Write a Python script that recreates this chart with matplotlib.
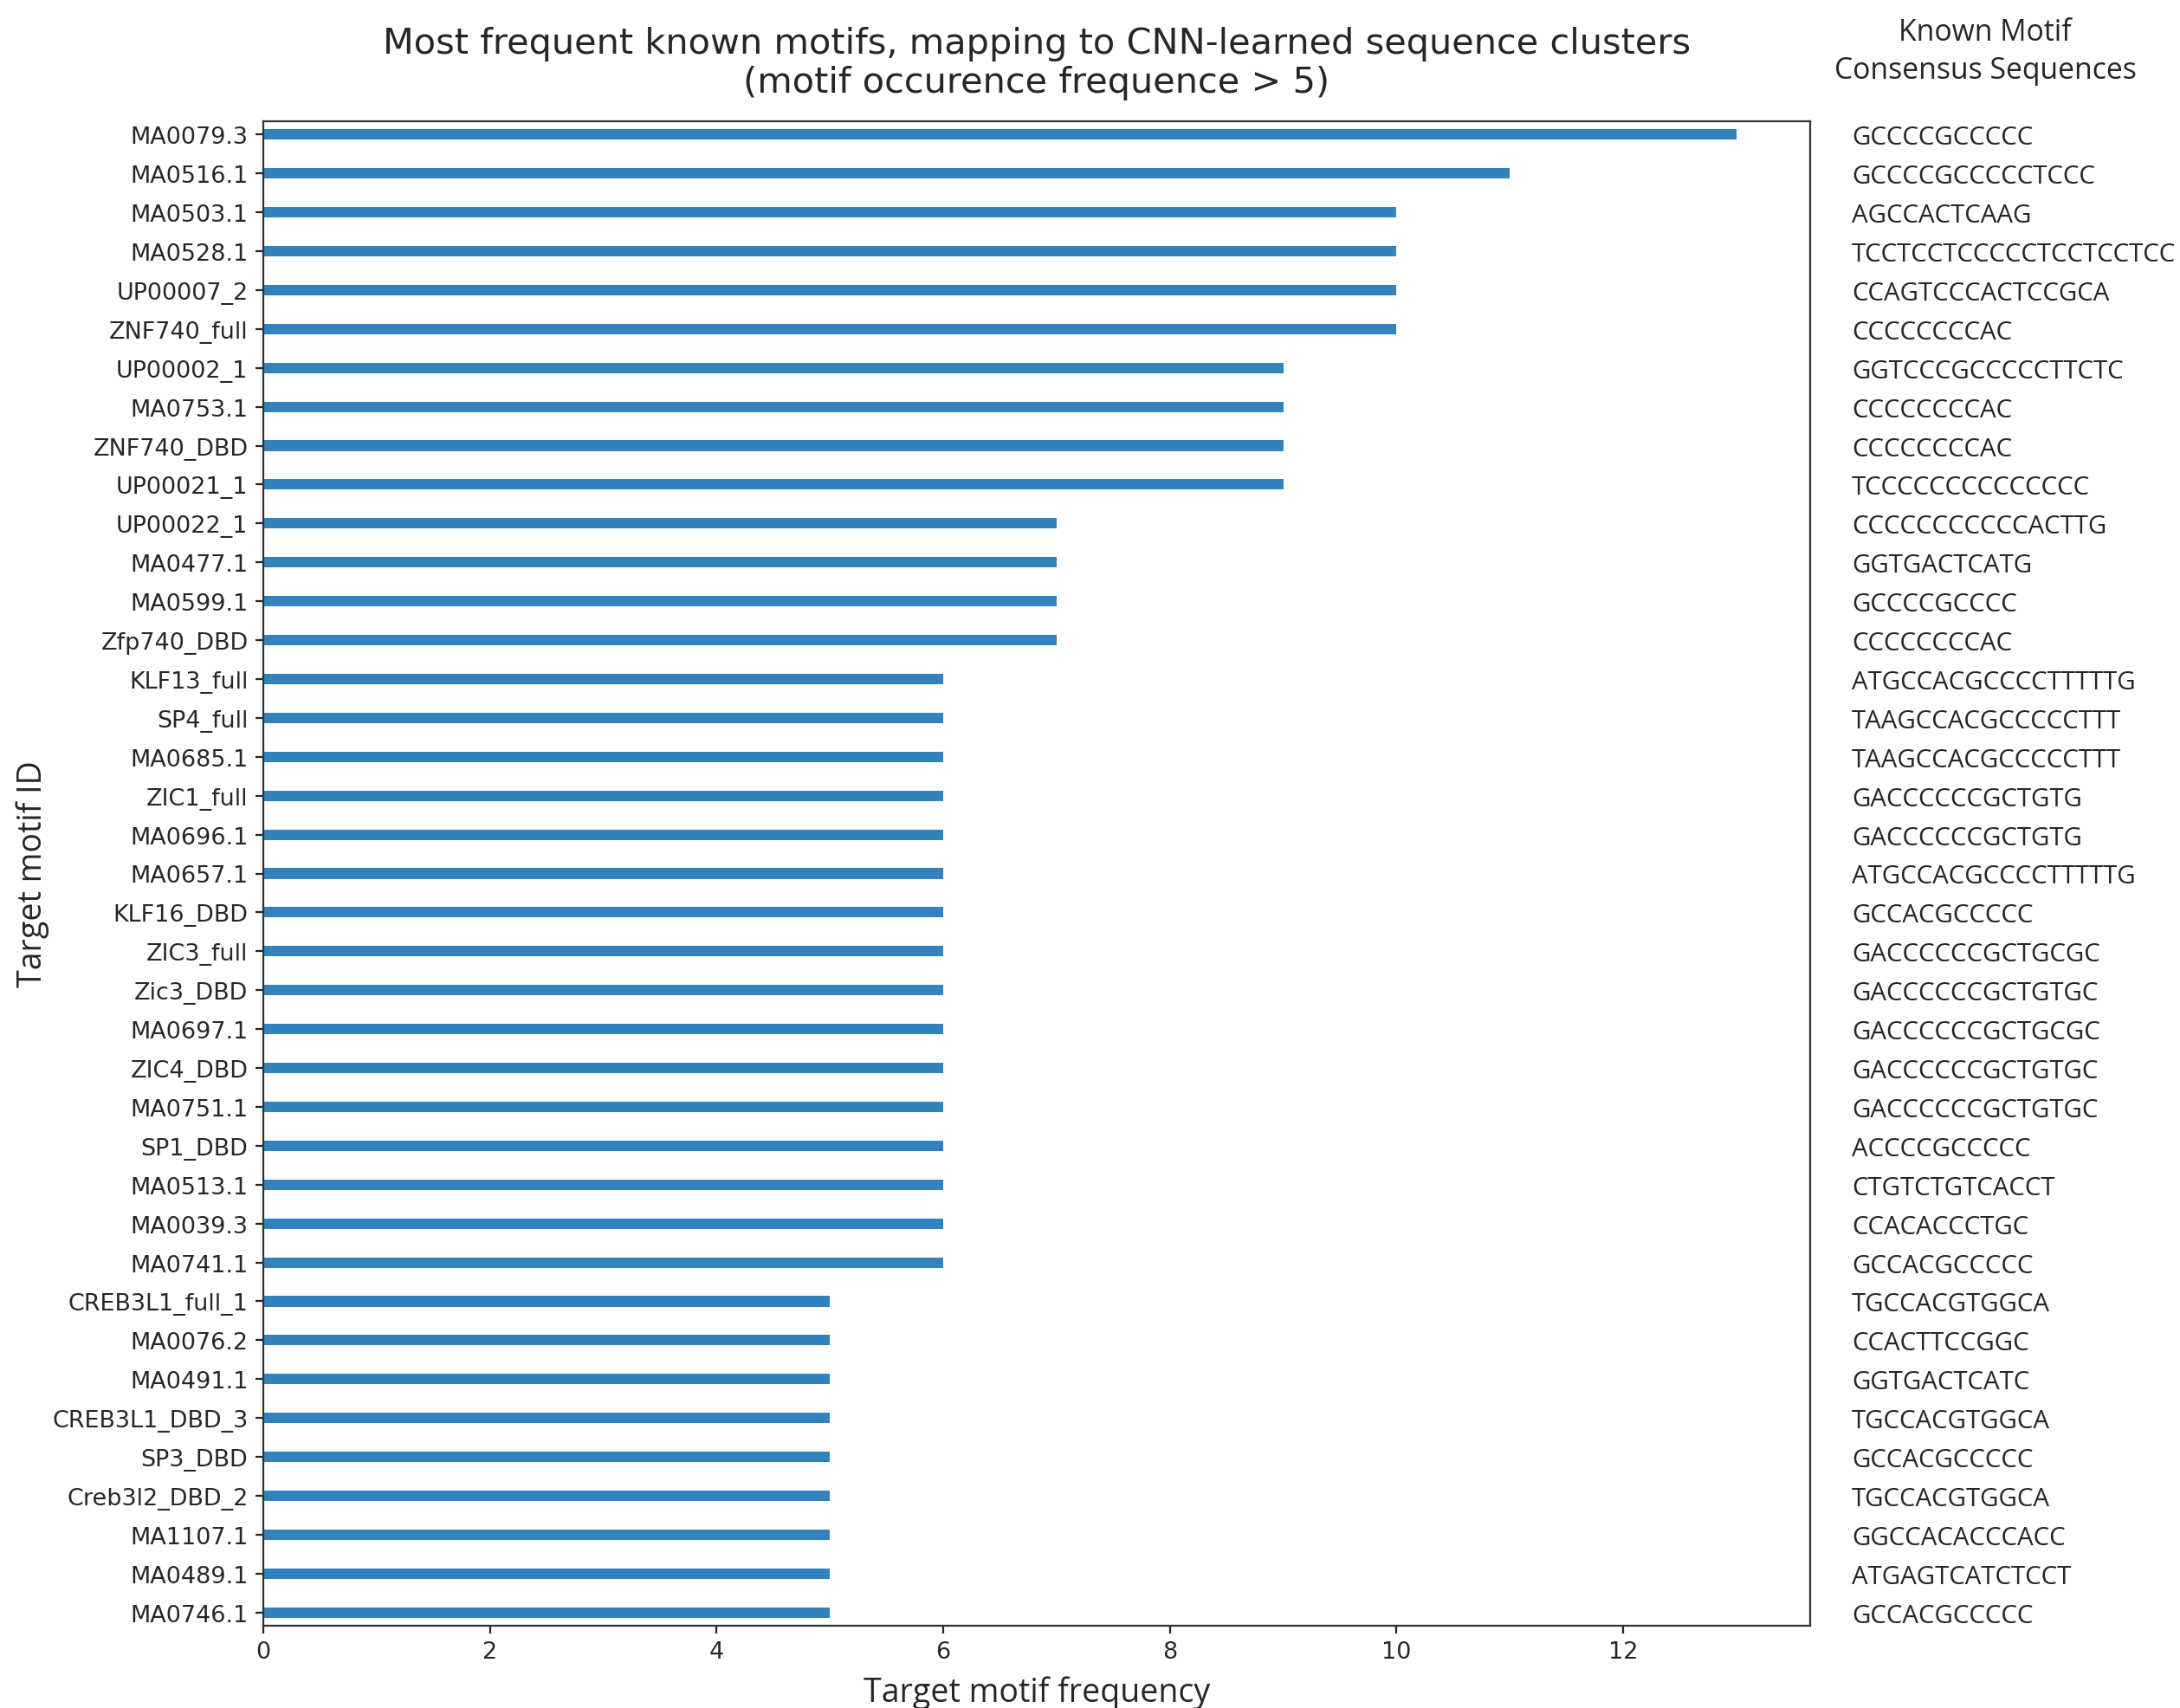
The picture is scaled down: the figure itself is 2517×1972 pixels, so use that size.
import matplotlib
matplotlib.use("Agg")
import matplotlib.pyplot as plt
from matplotlib.transforms import blended_transform_factory

# Known motif IDs (top to bottom), their occurrence counts and consensus sequences
motif_ids = [
    "MA0079.3", "MA0516.1", "MA0503.1", "MA0528.1", "UP00007_2", "ZNF740_full",
    "UP00002_1", "MA0753.1", "ZNF740_DBD", "UP00021_1", "UP00022_1", "MA0477.1",
    "MA0599.1", "Zfp740_DBD", "KLF13_full", "SP4_full", "MA0685.1", "ZIC1_full",
    "MA0696.1", "MA0657.1", "KLF16_DBD", "ZIC3_full", "Zic3_DBD", "MA0697.1",
    "ZIC4_DBD", "MA0751.1", "SP1_DBD", "MA0513.1", "MA0039.3", "MA0741.1",
    "CREB3L1_full_1", "MA0076.2", "MA0491.1", "CREB3L1_DBD_3", "SP3_DBD",
    "Creb3l2_DBD_2", "MA1107.1", "MA0489.1", "MA0746.1",
]

frequencies = [
    13, 11, 10, 10, 10, 10,
    9, 9, 9, 9, 7, 7,
    7, 7, 6, 6, 6, 6,
    6, 6, 6, 6, 6, 6,
    6, 6, 6, 6, 6, 6,
    5, 5, 5, 5, 5,
    5, 5, 5, 5,
]

consensus = [
    "GCCCCGCCCCC", "GCCCCGCCCCCTCCC", "AGCCACTCAAG", "TCCTCCTCCCCCTCCTCCTCC",
    "CCAGTCCCACTCCGCA", "CCCCCCCCAC", "GGTCCCGCCCCCTTCTC", "CCCCCCCCAC",
    "CCCCCCCCAC", "TCCCCCCCCCCCCCC", "CCCCCCCCCCCACTTG", "GGTGACTCATG",
    "GCCCCGCCCC", "CCCCCCCCAC", "ATGCCACGCCCCTTTTTG", "TAAGCCACGCCCCCTTT",
    "TAAGCCACGCCCCCTTT", "GACCCCCCGCTGTG", "GACCCCCCGCTGTG", "ATGCCACGCCCCTTTTTG",
    "GCCACGCCCCC", "GACCCCCCGCTGCGC", "GACCCCCCGCTGTGC", "GACCCCCCGCTGCGC",
    "GACCCCCCGCTGTGC", "GACCCCCCGCTGTGC", "ACCCCGCCCCC", "CTGTCTGTCACCT",
    "CCACACCCTGC", "GCCACGCCCCC", "TGCCACGTGGCA", "CCACTTCCGGC",
    "GGTGACTCATC", "TGCCACGTGGCA", "GCCACGCCCCC", "TGCCACGTGGCA",
    "GGCCACACCCACC", "ATGAGTCATCTCCT", "GCCACGCCCCC",
]

TEXT = "#262626"
BAR = "#3182bd"
SIDE_FONT = ["Open Sans", "DejaVu Sans"]

plt.rcParams.update({
    "font.family": ["DejaVu Sans"],
    "text.color": TEXT,
    "axes.labelcolor": TEXT,
    "xtick.color": TEXT,
    "ytick.color": TEXT,
    "axes.edgecolor": "#333333",
    "axes.linewidth": 0.9,
})

W, H, DPI = 2517, 1973, 180
fig = plt.figure(figsize=(W / DPI, H / DPI), dpi=DPI)

left, right, top, bottom = 304, 2090, 141, 1878
ax = fig.add_axes([left / W, 1 - bottom / H, (right - left) / W, (bottom - top) / H])

pos = list(range(len(motif_ids)))
ax.barh(pos, frequencies, height=0.27, color=BAR, edgecolor="none")

ax.set_yticks(pos)
ax.set_yticklabels(motif_ids, fontsize=10.8)
ax.set_ylim(len(motif_ids) - 1 + 0.34, -0.34)
ax.set_xlim(0, max(frequencies) * 1.05)
ax.set_xticks(range(0, 13, 2))
ax.tick_params(axis="x", labelsize=10.8, length=3.5, width=0.9)
ax.tick_params(axis="y", length=3.5, width=0.9)

ax.set_title("Most frequent known motifs, mapping to CNN-learned sequence clusters\n"
             "(motif occurence frequence > 5)", fontsize=16.6, pad=13.5, color=TEXT,
             linespacing=1.16)

# Axis labels
fig.text((left + right) / 2 / W, 1 - 1955 / H, "Target motif frequency",
         ha="center", va="center", fontsize=15, family=SIDE_FONT)
fig.text(38 / W, 1 - (top + bottom) / 2 / H, "Target motif ID", rotation=90,
         ha="center", va="center", fontsize=15, family=SIDE_FONT)

# Consensus sequences listed beside each bar
seq_trans = blended_transform_factory(fig.transFigure, ax.transData)
for y, seq in zip(pos, consensus):
    ax.text(2138 / W, y, seq, transform=seq_trans, ha="left", va="center_baseline",
            fontsize=11.8, family=SIDE_FONT, clip_on=False)

fig.text(2292 / W, 1 - 60 / H, "Known Motif\nConsensus Sequences", ha="center",
         va="center", fontsize=13.5, family=SIDE_FONT, linespacing=1.4)

fig.savefig("out.png", dpi=DPI)
